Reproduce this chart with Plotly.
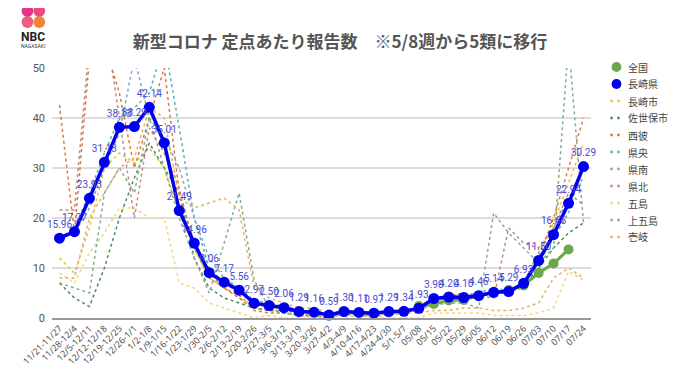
import plotly.graph_objects as go

weeks = ["11/21-11/27","11/28-12/4","12/5-12/11","12/12-12/18","12/19-12/25","12/26-1/1",
         "1/2-1/8","1/9-1/15","1/16-1/22","1/23-1/29","1/30-2/5","2/6-2/12","2/13-2/19",
         "2/20-2/26","2/27-3/5","3/6-3/12","3/13-3/19","3/20-3/26","3/27-4/2","4/3-4/9",
         "4/10-4/16","4/17-4/23","4/24-4/30","5/1-5/7","05/08","05/15","05/22","05/29",
         "06/05","06/12","06/19","06/26","07/03","07/10","07/17","07/24"]

nagasaki_pref = [15.96,17.27,23.93,31.13,38.13,38.29,42.14,35.01,21.49,14.96,9.06,7.17,5.56,
                 2.97,2.50,2.06,1.29,1.16,0.59,1.30,1.11,0.97,1.29,1.34,1.93,3.90,4.20,4.10,
                 4.46,5.14,5.29,6.93,11.50,16.66,22.94,30.29]
pref_labels = ["15.96","17.27","23.93","31.13","38.13","38.29","42.14","35.01","21.49","14.96",
               "9.06","7.17","5.56","2.97","2.50","2.06","1.29","1.16","0.59","1.30","1.11",
               "0.97","1.29","1.34","1.93","3.90","4.20","4.10","4.46","5.14","5.29","6.93",
               "11.50","16.66","22.94","30.29"]

national = [None]*24 + [2.4,2.8,3.5,3.6,4.5,5.0,5.6,6.5,9.0,10.9,13.7,None]

nagasaki_city = [12,9,18,30,33,31,34,30,21,14,8,6,4,2.5,2,1.8,1.2,1,0.5,1,0.9,0.8,1,1.1,
                 1.8,3.5,4,3.9,4.5,5,5.5,7,13,19,27,35]
sasebo = [7,4,2.3,10,20,28,35,30,25,12,6,4,3,2,1.5,1.5,1,1,0.5,1.5,1,1,1.3,1.5,
          2,3.5,4,4.5,4.3,5,5,6.5,10,14,17,19]
seihi = [42.6,17,52,55,45,30,40,50,25,15,9,6,4,1.5,1,1,0.5,0.3,0.2,0.7,0.5,0.4,0.6,1,
         1.5,3,4.5,5,4.5,5,5.5,6,12,20,30,40]
kenou = [16,18,25,33,40,42,45,55,38,20,10,7,5,3,2.5,2,1.3,1.2,0.6,1.4,1.2,1,1.3,1.5,
         2,4,4.5,4.5,5,6,5.5,7,11,16,21,31]
kennan = [16,17,22,30,37,52,40,36,30,20,12,8,6,3.5,3,2.5,1.5,1.5,0.8,1.6,1.3,1.1,1.5,1.6,
          2.2,4,4.5,4,4.3,5.5,5,7,13,18,24,28]
kenpoku = [21.6,21.6,55,60,40,20,38,33,26,14,8,6,4.5,2,1.5,1,0.8,0.5,0.3,0.8,0.6,0.5,0.8,1,
           1.5,3,4.5,4.8,4.5,4,18,15,14,18,25,22.6]
goto = [9,7,13,17,22,22,20,20,7,6,3,2,1,0,0.5,0,0,0,0,0,0.5,0,0,0,
        0,1,1,1,1,0.5,0.5,0.5,1,2,9.3,7.6]
kamigoto = [7,6,5,25,30,25,40,30,20,12,5,15,25,7.6,2,1,0.5,0.5,0,1,0.5,0.5,1,1,
            2,2.5,3,3,2,21,17,14,11,14,55,19]
iki = [8,8,20,25,30,32,42,40,24,22,23,24,21.6,6.3,4,3,2,2,1,1,1,0.5,0.5,1,
       1,1.5,1.5,2,2,1.5,1.5,2,3,8,10,8]

regions = [
    ("長崎市", nagasaki_city, "#e8c43c"),
    ("佐世保市", sasebo, "#4f8a5c"),
    ("西彼", seihi, "#e07a30"),
    ("県央", kenou, "#5fb3b3"),
    ("県南", kennan, "#85a6c8"),
    ("県北", kenpoku, "#c48a80"),
    ("五島", goto, "#f3d77a"),
    ("上五島", kamigoto, "#7fb08e"),
    ("壱岐", iki, "#e9ae6c"),
]
GREEN = "#6aa84f"
BLUE = "#0000ee"

fig = go.Figure()
for name, vals, col in regions:
    fig.add_trace(go.Scatter(x=weeks, y=vals, name=name, mode="lines",
                             line=dict(color=col, width=1.5, dash="dot")))
fig.add_trace(go.Scatter(x=weeks, y=national, name="全国", mode="lines+markers",
                         line=dict(color=GREEN, width=3),
                         marker=dict(size=10, color=GREEN)))
fig.add_trace(go.Scatter(x=weeks, y=nagasaki_pref, name="長崎県", mode="lines+markers+text",
                         line=dict(color=BLUE, width=3.5),
                         marker=dict(size=11, color=BLUE), cliponaxis=False,
                         text=pref_labels, textposition="top center",
                         textfont=dict(size=10, color="#4a4ad0", family="Roboto")))

# page offset (body margin 8px) handled by margins; plot area page x 41..591, y 68..318
def px(x):
    return (x - 41) / 550
def py(y):
    return (318 - y) / 250

fig.update_layout(
    width=672, height=374,
    margin=dict(l=33, r=89, t=60, b=64),
    paper_bgcolor="white", plot_bgcolor="white",
    showlegend=False,
    title=dict(text="<b>新型コロナ 定点あたり報告数　※5/8週から5類に移行</b>",
               x=(340-8)/672, xanchor="center", y=1-(42-8)/374, yanchor="middle",
               font=dict(size=17, color="#555555", family="Noto Sans CJK JP")),
)
fig.update_xaxes(type="category", tickangle=-45, tickfont=dict(size=9, color="#444"),
                 showgrid=False, showline=True, linecolor="#999", linewidth=1.5,
                 ticks="", range=[-0.5, 35.5])
fig.update_yaxes(range=[0, 50], dtick=10, showgrid=True, gridcolor="#dddddd", gridwidth=1.5,
                 zeroline=False, tickfont=dict(size=11, color="#555", family="Roboto"),
                 ticklabelstandoff=6)

# custom legend
legend_items = [("全国", GREEN, "circle"), ("長崎県", BLUE, "circle")] + \
               [(n, c, "dot") for n, _, c in regions]
for k, (name, col, kind) in enumerate(legend_items):
    yy = 67 + 17 * k
    if kind == "circle":
        fig.add_shape(type="circle", xref="paper", yref="paper",
                      x0=px(612), x1=px(622), y0=py(yy + 5), y1=py(yy - 5),
                      fillcolor=col, line=dict(width=0))
    else:
        for dx in (612, 619):
            fig.add_shape(type="circle", xref="paper", yref="paper",
                          x0=px(dx - 1.4), x1=px(dx + 1.4), y0=py(yy + 1.4), y1=py(yy - 1.4),
                          fillcolor=col, line=dict(width=0))
    fig.add_annotation(text=name, xref="paper", yref="paper", x=px(627), y=py(yy),
                       xanchor="left", yanchor="middle", showarrow=False,
                       font=dict(size=10, color="#444", family="Noto Sans CJK JP"))

# NBC logo
logo_circles = [(16, 11, "#e6338c"), (28, 11, "#ec4a78"), (16, 22, "#ef5a7e"), (28, 22, "#f5823a")]
for cx, cy, col in logo_circles:
    fig.add_shape(type="circle", xref="paper", yref="paper",
                  x0=px(cx - 6), x1=px(cx + 6), y0=py(cy + 6), y1=py(cy - 6),
                  fillcolor=col, line=dict(width=0), layer="above")
fig.add_annotation(text="<b>NBC</b>", xref="paper", yref="paper",
                   x=px(22), y=py(37), showarrow=False, xanchor="center", yanchor="middle",
                   font=dict(size=12, color="#222", family="Roboto"))
fig.add_annotation(text="NAGASAKI", xref="paper", yref="paper",
                   x=px(22), y=py(46), showarrow=False, xanchor="center", yanchor="middle",
                   font=dict(size=5, color="#333", family="Roboto"))

fig.write_html("out.html")
